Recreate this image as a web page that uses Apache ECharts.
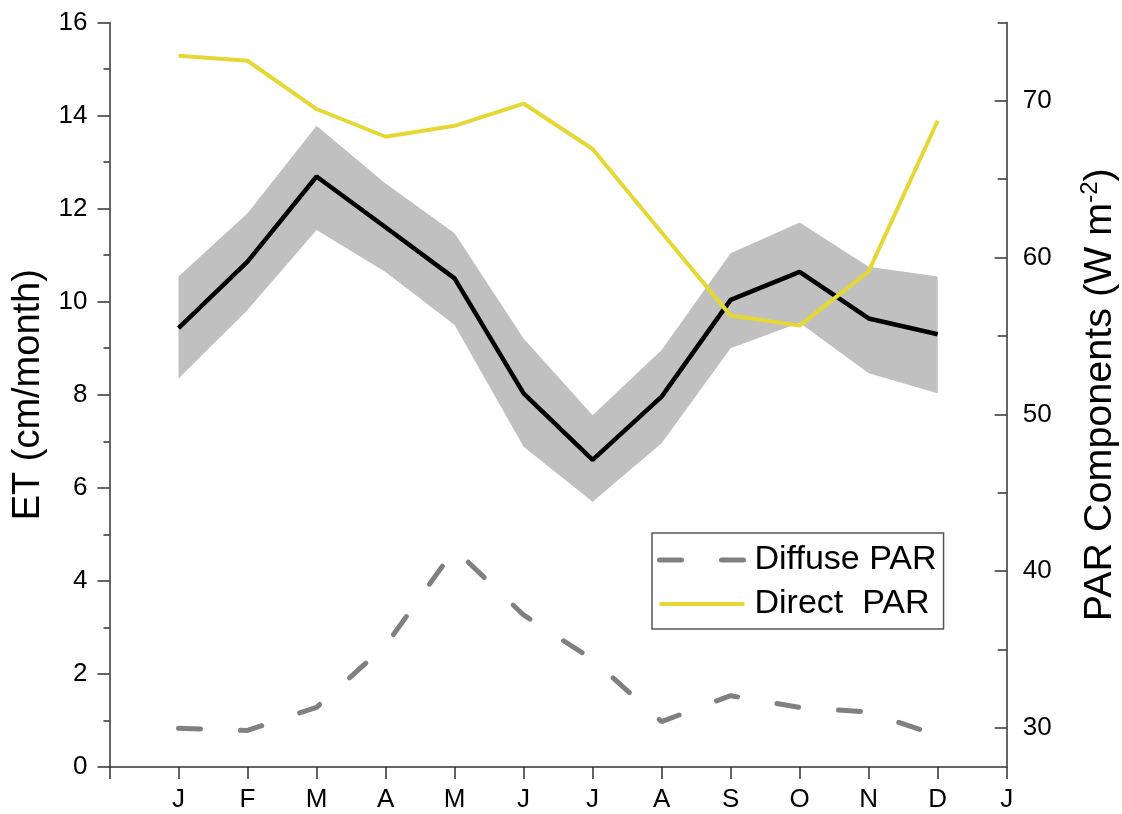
<!DOCTYPE html>
<html>
<head>
<meta charset="utf-8">
<script src="https://cdn.jsdelivr.net/npm/echarts@6/dist/echarts.min.js"></script>
<style>
html,body{margin:0;padding:0;background:#fff;}
#chart{width:1122px;height:814px;}
</style>
</head>
<body>
<div id="chart"></div>
<script>
// x-axis tick labels (first tick is unlabelled, last "J" is next January)
var xTickLabels = ['', 'J','F','M','A','M','J','J','A','S','O','N','D','J'];

// ET (cm/month): mean and uncertainty band, Jan..Dec
var etMean  = [9.43, 10.86, 12.69, 11.60, 10.50, 8.03, 6.60, 7.96, 10.04, 10.64, 9.64, 9.30];
var etUpper = [10.54, 11.90, 13.78, 12.54, 11.47, 9.21, 7.56, 8.96, 11.04, 11.70, 10.75, 10.54];
var etLower = [8.35, 9.82, 11.54, 10.64, 9.50, 6.88, 5.70, 6.96, 9.00, 9.55, 8.46, 8.03];

// PAR components (W m-2), Jan..Dec
var directPAR  = [72.88, 72.56, 69.48, 67.71, 68.41, 69.83, 66.93, 61.60, 56.30, 55.66, 59.12, 68.73];
var diffusePAR = [29.97, 29.83, 31.31, 35.25, 41.40, 37.20, 34.36, 30.40, 32.05, 31.30, 31.00, 29.50];

// right axis ticks
var rightLabelTicks = [30,40,50,60,70];
var rightMinorTicks = [35,45,55,65,75];

// place Jan..Dec on categories 1..12
function onAxis(vals){ return [null].concat(vals).concat([null]); }
var bandDiff = etUpper.map(function(u,i){ return +(u - etLower[i]).toFixed(3); });

var FONT = 'Liberation Sans, Arial, Helvetica, sans-serif';
var AXC = '#333333';
var YEL = '#e5d834';
var GRY = '#808080';

var chart = echarts.init(document.getElementById('chart'), null, {renderer:'canvas'});
chart.setOption({
  animation: false,
  backgroundColor: '#ffffff',
  textStyle: {fontFamily: FONT},
  grid: {left: 109.5, right: 115.3, top: 22.5, bottom: 47, containLabel: false, outerBoundsMode: 'none'},
  legend: {
    data: [
      {name: 'Diffuse PAR', lineStyle: {width: 5, type: [22, 40], cap: 'round', color: GRY}},
      {name: 'Direct  PAR', lineStyle: {width: 4, color: YEL}}
    ],
    orient: 'vertical',
    left: 652, top: 533,
    padding: [10, 7, 8, 5],
    itemWidth: 85, itemHeight: 30, itemGap: 10,
    itemStyle: {opacity: 0, borderWidth: 0},
    borderColor: '#555555', borderWidth: 1.5,
    backgroundColor: '#ffffff',
    textStyle: {fontSize: 34, color: '#000', fontFamily: FONT, padding: [0,0,0,5]},
    selectedMode: false
  },
  xAxis: {
    type: 'category', data: xTickLabels, boundaryGap: false,
    axisLine: {show: true, lineStyle: {color: AXC, width: 1.5}},
    axisTick: {show: true, length: 12, inside: false, interval: 0, lineStyle: {color: AXC, width: 1.5}},
    axisLabel: {fontSize: 26, color: '#000', margin: 20, interval: 0, fontFamily: FONT},
    splitLine: {show: false}
  },
  yAxis: [
    {
      type: 'value', position: 'left', min: 0, max: 16, interval: 2,
      name: 'ET (cm/month)', nameLocation: 'middle', nameRotate: 90, nameGap: 61,
      nameTextStyle: {fontSize: 38, color: '#000', fontFamily: FONT},
      axisLine: {show: true, lineStyle: {color: AXC, width: 1.5}},
      axisTick: {show: true, length: 12, inside: false, lineStyle: {color: AXC, width: 1.5}},
      minorTick: {show: true, splitNumber: 2, length: 6, lineStyle: {color: AXC, width: 1.5}},
      axisLabel: {fontSize: 26, color: '#000', margin: 22, fontFamily: FONT},
      splitLine: {show: false}, minorSplitLine: {show: false}
    },
    {
      type: 'value', position: 'right', min: 27.5, max: 75,
      name: '{n|PAR Components (W m}{s|-2}{n|)}', nameLocation: 'middle', nameRotate: 90, nameGap: 72,
      nameTextStyle: {fontSize: 39.5, color: '#000', fontFamily: FONT,
        rich: {n: {fontSize: 39.5, color: '#000', fontFamily: FONT},
               s: {fontSize: 24, color: '#000', fontFamily: FONT, padding: [0,0,18,0]}}},
      axisLine: {show: true, lineStyle: {color: AXC, width: 1.5}},
      axisTick: {show: true, length: 12, inside: true, customValues: rightLabelTicks, lineStyle: {color: AXC, width: 1.5}},
      axisLabel: {fontSize: 26, color: '#000', margin: 16, fontFamily: FONT, customValues: rightLabelTicks},
      splitLine: {show: false}
    },
    {
      type: 'value', position: 'right', min: 27.5, max: 75,
      axisLine: {show: false},
      axisTick: {show: true, length: 9, inside: true, customValues: rightMinorTicks, lineStyle: {color: AXC, width: 1.5}},
      axisLabel: {show: false, customValues: rightMinorTicks},
      splitLine: {show: false}
    }
  ],
  series: [
    {
      name: 'bandLower', type: 'line', stack: 'band', yAxisIndex: 0,
      data: onAxis(etLower), symbol: 'none', silent: true,
      lineStyle: {opacity: 0, width: 0}, z: 1
    },
    {
      name: 'bandRange', type: 'line', stack: 'band', yAxisIndex: 0,
      data: onAxis(bandDiff), symbol: 'none', silent: true,
      lineStyle: {opacity: 0, width: 0},
      areaStyle: {color: '#c0c0c0', opacity: 1}, z: 1
    },
    {
      name: 'ET', type: 'line', yAxisIndex: 0, data: onAxis(etMean),
      symbol: 'none', lineStyle: {color: '#000000', width: 4.5}, z: 3
    },
    {
      name: 'Diffuse PAR', type: 'line', yAxisIndex: 1, data: onAxis(diffusePAR),
      symbol: 'none', itemStyle: {color: GRY},
      lineStyle: {color: GRY, width: 5, type: [22, 40], cap: 'round'}, z: 4
    },
    {
      name: 'Direct  PAR', type: 'line', yAxisIndex: 1, data: onAxis(directPAR),
      symbol: 'none', itemStyle: {color: YEL},
      lineStyle: {color: YEL, width: 4}, z: 5
    }
  ]
});
</script>
</body>
</html>
